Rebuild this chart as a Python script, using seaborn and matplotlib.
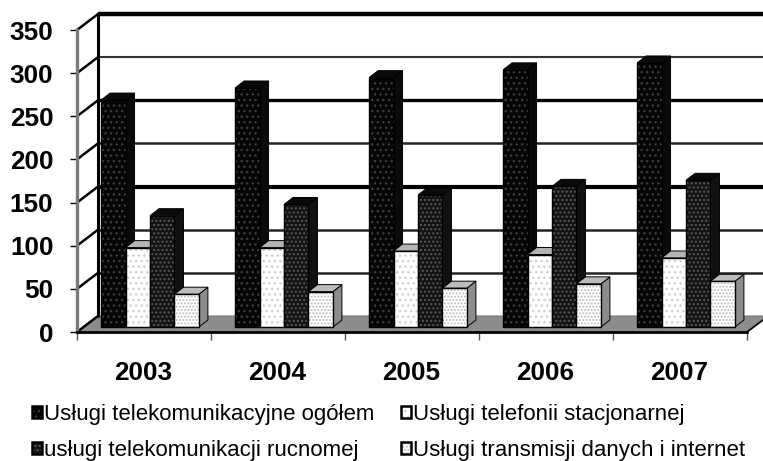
import matplotlib.pyplot as plt
import pandas as pd
import seaborn as sns
from matplotlib.patches import Polygon, Rectangle
from matplotlib.transforms import Affine2D

years = ["2003", "2004", "2005", "2006", "2007"]
series_names = [
    "Usługi telekomunikacyjne ogółem",
    "Usługi telefonii stacjonarnej",
    "usługi telekomunikacji rucnomej",
    "Usługi transmisji danych i internet",
]
total = [263, 277, 289, 298, 306]
fixed = [92, 92, 88, 84, 80]
mobile = [129, 142, 153, 163, 170]
data_net = [38, 41, 45, 50, 53]
y_ticks = [0, 50, 100, 150, 200, 250, 300, 350]

front = ["#050505", "#ffffff", "#141414", "#ffffff"]
hatch_ink = ["#3c3c3c", "#d0d0d0", "#5a5a5a", "#bcbcbc"]
hatches = ["...", "...", "....", "....."]
top_face = ["#0a0a0a", "#b4b4b4", "#0a0a0a", "#bcbcbc"]
side_face = ["#0a0a0a", "#8a8a8a", "#111111", "#8c8c8c"]
grid_width = {50: 1.8, 100: 1.8, 150: 3.0, 200: 1.8, 250: 2.4, 300: 1.5, 350: 3.2}
grid_color = {50: "#222222", 100: "#222222", 150: "#000000", 200: "#222222", 250: "#000000", 300: "#333333", 350: "#000000"}

df = pd.DataFrame({
    "year": years * 4,
    "series": [n for n in series_names for _ in years],
    "value": total + fixed + mobile + data_net,
})

sns.set_theme(style="white")
plt.rcParams["font.family"] = ["Liberation Sans", "DejaVu Sans"]
plt.rcParams["hatch.linewidth"] = 1.0

W, H = 763, 461
fig = plt.figure(figsize=(W / 100, H / 100), dpi=100)
# front plane of the fake 3d box, in pixels
left, right, y0, y350 = 77, 747, 332, 30
ax = fig.add_axes([left / W, 1 - y0 / H, (right - left) / W, (y0 - y350) / H])
ax.patch.set_alpha(0)

sns.barplot(
    data=df, x="year", y="value", hue="series", order=years, hue_order=series_names,
    palette=dict(zip(series_names, front)), width=0.73, gap=0, saturation=1,
    legend=False, ax=ax, zorder=5,
)
ax.set_xlim(-0.5, 4.5)
ax.set_ylim(0, 350)
ax.set_xlabel("")
ax.set_ylabel("")

px_x = (right - left) / 5
px_y = (y0 - y350) / 350
back_tr = ax.transData + Affine2D().translate(21, 16)
bar_tr = ax.transData + Affine2D().translate(6, 5)
dx, dy = 9 / px_x, 7 / px_y

# floor and back wall
ax.add_patch(Polygon(
    [(-0.5, 0), (-0.5 + 21 / px_x, 16 / px_y), (4.5 + 21 / px_x, 16 / px_y), (4.5, 0)],
    closed=True, facecolor="#8c8c8c", edgecolor="#777777", lw=0.8, clip_on=False, zorder=1,
))
for v in y_ticks:
    if v > 0:
        ax.plot([-0.5, 4.5], [v, v], color=grid_color[v], lw=grid_width[v],
                transform=back_tr, clip_on=False, zorder=2, solid_capstyle="butt")
    ax.plot([-0.5, -0.5 + 21 / px_x], [v, v + 16 / px_y], color="black", lw=1.8,
            clip_on=False, zorder=2)
ax.plot([-0.5, -0.5], [0, 350], color="black", lw=2.2, transform=back_tr, clip_on=False, zorder=2)
ax.plot([4.5, 4.5 + 16 / px_x], [0, 12 / px_y], color="black", lw=1.2, clip_on=False, zorder=2)

# each bar: side and top from its own front rectangle
for i, container in enumerate(ax.containers):
    base_z = 5 + i * 2
    for bar in container:
        x0, w, h = bar.get_x(), bar.get_width(), bar.get_height()
        x1 = x0 + w
        side = Polygon([(x1, 0), (x1 + dx, dy), (x1 + dx, h + dy), (x1, h)], closed=True,
                       facecolor=side_face[i], edgecolor="black", lw=0.7, transform=bar_tr,
                       clip_on=False, zorder=base_z)
        top = Polygon([(x0, h), (x0 + dx, h + dy), (x1 + dx, h + dy), (x1, h)], closed=True,
                      facecolor=top_face[i], edgecolor="black", lw=0.7, transform=bar_tr,
                      clip_on=False, zorder=base_z)
        ax.add_patch(side)
        ax.add_patch(top)
        bar.set_transform(bar_tr)
        bar.set_clip_on(False)
        bar.set_zorder(base_z + 1)
        bar.set_hatch(hatches[i])
        bar.set_edgecolor(hatch_ink[i])
        bar.set_linewidth(0)
        # hatch takes the edge colour, so the black outline is its own patch
        ax.add_patch(Rectangle((x0, 0), w, h, fill=False, edgecolor="black", lw=1.0,
                               transform=bar_tr, clip_on=False, zorder=base_z + 1.5))

sns.despine(ax=ax, top=True, right=True)
ax.spines["left"].set_color("#7a7a7a")
ax.spines["left"].set_linewidth(2.4)
ax.spines["bottom"].set_color("black")
ax.spines["bottom"].set_linewidth(2.0)
ax.spines["bottom"].set_zorder(3)

ax.set_yticks(y_ticks)
ax.set_xticks([x - 0.5 for x in range(6)], minor=False)
ax.set_xticklabels([])
ax.tick_params(axis="y", left=True, length=5, width=1, color="black", pad=12, labelsize=18.8)
ax.tick_params(axis="x", bottom=True, length=6, width=1, color="#555555")
for lab in ax.get_yticklabels():
    lab.set_fontweight("bold")
    lab.set_color("black")
for i, year in enumerate(years):
    ax.annotate(year, (i, 0), xytext=(-1, -41), textcoords="offset pixels", ha="center", va="center",
                fontsize=18.8, fontweight="bold", color="black", annotation_clip=False)

handles = [
    (Rectangle((0, 0), 1, 1, facecolor=front[i], edgecolor=hatch_ink[i], lw=0, hatch=hatches[i]),
     Rectangle((0, 0), 1, 1, fill=False, edgecolor="black", lw=1.8))
    for i in [0, 2, 1, 3]
]
labels = [series_names[i] for i in [0, 2, 1, 3]]
fig.legend(handles, labels, ncol=2, loc="upper left", bbox_to_anchor=(32 / W, 1 - 403.5 / H),
           frameon=False, fontsize=16, borderpad=0, borderaxespad=0, handlelength=0.45,
           handleheight=0.45, handletextpad=0.1, labelspacing=0.68, columnspacing=1.2,
           labelcolor="black")

fig.savefig("out.png", dpi=100)
plt.close(fig)
